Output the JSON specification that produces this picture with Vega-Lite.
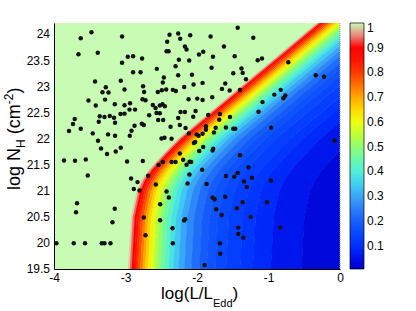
{
"$schema":"https://vega.github.io/schema/vega-lite/v6.json",
"width":286,"height":246,"autosize":"none",
"padding":{"left":54,"top":23,"right":76,"bottom":42},
"config":{"font":"Liberation Sans","view":{"fill":"#c8fcb4","stroke":null},
 "axis":{"labelFont":"Liberation Sans","labelFontSize":12,"labelColor":"black","domainColor":"black","ticks":false,"grid":false,"title":null,"labelFlush":false,"labelOverlap":false}},
"datasets":{"bands":[
{"k":1,"c":0.98,"y":[19.4,20.5,21,21.2,21.4,21.6,21.8,22,24.3],"x":[-2.970,-2.925,-2.845,-2.780,-2.680,-2.550,-2.415,-2.270,-0.260],"x2":[-2.939,-2.894,-2.814,-2.749,-2.649,-2.519,-2.384,-2.239,-0.229]},
{"k":2,"c":0.94,"y":[19.4,20.5,21,21.2,21.4,21.6,21.8,22,24.3],"x":[-2.945,-2.900,-2.820,-2.755,-2.655,-2.525,-2.390,-2.245,-0.235],"x2":[-2.912,-2.867,-2.787,-2.722,-2.622,-2.492,-2.357,-2.212,-0.202]},
{"k":3,"c":0.90,"y":[19.4,20.5,21,21.2,21.4,21.6,21.8,22,24.3],"x":[-2.918,-2.873,-2.793,-2.728,-2.628,-2.498,-2.363,-2.218,-0.208],"x2":[-2.885,-2.840,-2.760,-2.695,-2.595,-2.465,-2.330,-2.185,-0.175]},
{"k":4,"c":0.86,"y":[19.4,20.5,21,21.2,21.4,21.6,21.8,22,24.3],"x":[-2.891,-2.846,-2.766,-2.701,-2.601,-2.471,-2.336,-2.191,-0.181],"x2":[-2.856,-2.811,-2.731,-2.666,-2.566,-2.436,-2.301,-2.156,-0.146]},
{"k":5,"c":0.82,"y":[19.4,20.5,21,21.2,21.4,21.6,21.8,22,24.3],"x":[-2.862,-2.817,-2.737,-2.672,-2.572,-2.442,-2.307,-2.162,-0.152],"x2":[-2.826,-2.781,-2.701,-2.636,-2.536,-2.406,-2.271,-2.126,-0.116]},
{"k":6,"c":0.78,"y":[19.4,20.5,21,21.2,21.4,21.6,21.8,22,24.3],"x":[-2.832,-2.787,-2.707,-2.642,-2.542,-2.412,-2.277,-2.132,-0.122],"x2":[-2.794,-2.749,-2.669,-2.604,-2.504,-2.374,-2.239,-2.094,-0.084]},
{"k":7,"c":0.74,"y":[19.4,20.5,21,21.2,21.4,21.6,21.8,22,24.3],"x":[-2.800,-2.755,-2.675,-2.610,-2.510,-2.380,-2.245,-2.100,-0.090],"x2":[-2.760,-2.715,-2.635,-2.570,-2.470,-2.340,-2.205,-2.060,-0.050]},
{"k":8,"c":0.70,"y":[19.4,20.5,21,21.2,21.4,21.6,21.8,22,24.3],"x":[-2.766,-2.721,-2.641,-2.576,-2.476,-2.346,-2.211,-2.066,-0.056],"x2":[-2.725,-2.680,-2.600,-2.535,-2.435,-2.305,-2.170,-2.025,-0.015]},
{"k":9,"c":0.66,"y":[19.4,20.5,21,21.2,21.4,21.6,21.8,22,24.3],"x":[-2.731,-2.686,-2.606,-2.541,-2.441,-2.311,-2.176,-2.031,-0.021],"x2":[-2.687,-2.642,-2.562,-2.497,-2.397,-2.267,-2.132,-1.987,0.023]},
{"k":10,"c":0.62,"y":[19.4,20.5,21,21.2,21.4,21.6,21.8,22,24.3],"x":[-2.693,-2.648,-2.568,-2.503,-2.403,-2.273,-2.138,-1.993,0.017],"x2":[-2.647,-2.602,-2.522,-2.457,-2.357,-2.227,-2.092,-1.947,0.063]},
{"k":11,"c":0.58,"y":[19.4,20.5,21,21.2,21.4,21.6,21.8,22,24.3],"x":[-2.653,-2.608,-2.528,-2.463,-2.363,-2.233,-2.098,-1.953,0.057],"x2":[-2.604,-2.559,-2.479,-2.414,-2.314,-2.184,-2.049,-1.904,0.106]},
{"k":12,"c":0.54,"y":[19.4,20.5,21,21.2,21.4,21.6,21.8,22,24.3],"x":[-2.610,-2.565,-2.485,-2.420,-2.320,-2.190,-2.055,-1.910,0.100],"x2":[-2.559,-2.514,-2.434,-2.369,-2.269,-2.139,-2.004,-1.859,0.151]},
{"k":13,"c":0.50,"y":[19.4,20.5,21,21.2,21.4,21.6,21.8,22,24.3],"x":[-2.565,-2.520,-2.440,-2.375,-2.275,-2.145,-2.010,-1.865,0.145],"x2":[-2.509,-2.464,-2.384,-2.319,-2.219,-2.089,-1.954,-1.809,0.201]},
{"k":14,"c":0.46,"y":[19.4,20.5,21,21.2,21.4,21.6,21.8,22,24.3],"x":[-2.515,-2.470,-2.390,-2.325,-2.225,-2.095,-1.960,-1.815,0.195],"x2":[-2.455,-2.410,-2.330,-2.265,-2.165,-2.035,-1.900,-1.755,0.255]},
{"k":15,"c":0.42,"y":[19.4,20.5,21,21.2,21.4,21.6,21.8,22,24.3],"x":[-2.461,-2.416,-2.336,-2.271,-2.171,-2.041,-1.906,-1.761,0.249],"x2":[-2.396,-2.351,-2.271,-2.206,-2.106,-1.976,-1.841,-1.696,0.314]},
{"k":16,"c":0.38,"y":[19.4,20.5,21,21.2,21.4,21.6,21.8,22,24.3],"x":[-2.402,-2.357,-2.277,-2.212,-2.112,-1.982,-1.847,-1.702,0.308],"x2":[-2.331,-2.286,-2.206,-2.141,-2.041,-1.911,-1.776,-1.631,0.379]},
{"k":17,"c":0.34,"y":[19.4,20.5,21,21.2,21.4,21.6,21.8,22,24.3],"x":[-2.337,-2.292,-2.212,-2.147,-2.047,-1.917,-1.782,-1.637,0.373],"x2":[-2.257,-2.212,-2.132,-2.067,-1.967,-1.837,-1.702,-1.557,0.453]},
{"k":18,"c":0.30,"y":[19.4,20.5,21,21.2,21.4,21.6,21.8,22,24.3],"x":[-2.263,-2.218,-2.138,-2.073,-1.973,-1.843,-1.708,-1.563,0.447],"x2":[-2.175,-2.130,-2.050,-1.985,-1.885,-1.755,-1.620,-1.475,0.535]},
{"k":19,"c":0.26,"y":[19.4,20.5,21,21.2,21.4,21.6,21.8,22,24.3],"x":[-2.181,-2.136,-2.056,-1.991,-1.891,-1.761,-1.626,-1.481,0.529],"x2":[-2.079,-2.034,-1.954,-1.889,-1.789,-1.659,-1.524,-1.379,0.631]},
{"k":20,"c":0.22,"y":[19.4,20.5,21,21.2,21.4,21.6,21.8,22,24.3],"x":[-2.085,-2.040,-1.960,-1.895,-1.795,-1.665,-1.530,-1.385,0.625],"x2":[-1.966,-1.921,-1.841,-1.776,-1.676,-1.546,-1.411,-1.266,0.744]},
{"k":21,"c":0.19,"y":[19.4,20.5,21,21.2,21.4,21.6,21.8,22,24.3],"x":[-1.972,-1.927,-1.847,-1.782,-1.682,-1.552,-1.417,-1.272,0.738],"x2":[-1.865,-1.820,-1.740,-1.675,-1.575,-1.445,-1.310,-1.165,0.845]},
{"k":22,"c":0.17,"y":[19.4,20.5,21,21.2,21.4,21.6,21.8,22,24.3],"x":[-1.871,-1.826,-1.746,-1.681,-1.581,-1.451,-1.316,-1.171,0.839],"x2":[-1.745,-1.700,-1.620,-1.555,-1.455,-1.325,-1.190,-1.045,0.965]},
{"k":23,"c":0.15,"y":[19.4,20.5,21,21.2,21.4,21.6,21.8,22,24.3],"x":[-1.751,-1.706,-1.626,-1.561,-1.461,-1.331,-1.196,-1.051,0.959],"x2":[-1.595,-1.550,-1.470,-1.405,-1.305,-1.175,-1.040,-0.895,1.115]},
{"k":24,"c":0.13,"y":[19.4,20.5,21,21.2,21.4,21.6,21.8,22,24.3],"x":[-1.601,-1.556,-1.476,-1.411,-1.311,-1.181,-1.046,-0.901,1.109],"x2":[-1.398,-1.353,-1.273,-1.208,-1.108,-0.978,-0.843,-0.698,1.312]},
{"k":25,"c":0.11,"y":[19.4,20.5,21,21.2,21.4,21.6,21.8,22,24.3],"x":[-1.404,-1.359,-1.279,-1.214,-1.114,-0.984,-0.849,-0.704,1.306],"x2":[-1.220,-1.175,-1.095,-1.030,-0.930,-0.800,-0.665,-0.520,1.490]},
{"k":26,"c":0.09,"y":[19.4,20.5,21,21.2,21.4,21.6,21.8,22,24.3],"x":[-1.226,-1.181,-1.101,-1.036,-0.936,-0.806,-0.671,-0.526,1.484],"x2":[-0.968,-0.923,-0.843,-0.778,-0.678,-0.548,-0.413,-0.268,1.742]},
{"k":27,"c":0.06,"y":[19.4,20.5,21,21.2,21.4,21.6,21.8,22,24.3],"x":[-0.974,-0.929,-0.849,-0.784,-0.684,-0.554,-0.419,-0.274,1.736],"x2":[-0.539,-0.494,-0.414,-0.349,-0.249,-0.119,0.016,0.161,2.171]},
{"k":28,"c":0.03,"y":[19.4,20.5,21,21.2,21.4,21.6,21.8,22,24.3],"x":[-0.545,-0.500,-0.420,-0.355,-0.255,-0.125,0.010,0.155,2.165],"x2":[3,3,3,3,3,3,3,3,3]}
],
"ylab":[{"v":19.5,"t":"19.5"},{"v":20,"t":"20"},{"v":20.5,"t":"20.5"},{"v":21,"t":"21"},{"v":21.5,"t":"21.5"},{"v":22,"t":"22"},{"v":22.5,"t":"22.5"},{"v":23,"t":"23"},{"v":23.5,"t":"23.5"},{"v":24,"t":"24"}],
"pts":[
{"x":-3.476,"y":24.044},{"x":-3.626,"y":23.929},{"x":-3.048,"y":23.962},{"x":-2.384,"y":23.994},{"x":-2.263,"y":24.019},{"x":-2.095,"y":23.987},{"x":-2.235,"y":23.917},{"x":-2.417,"y":23.86},{"x":-2.169,"y":23.769},{"x":-2.146,"y":23.712},
{"x":-3.658,"y":23.621},{"x":-3.388,"y":23.648},{"x":-2.968,"y":23.571},{"x":-2.894,"y":23.583},{"x":-2.768,"y":23.538},{"x":-3.048,"y":23.456},{"x":-2.426,"y":23.679},{"x":-2.398,"y":23.679},{"x":-2.254,"y":23.513},{"x":-1.973,"y":23.615},
{"x":-1.913,"y":23.667},{"x":-2.109,"y":23.5},{"x":-2.894,"y":23.275},{"x":-2.79,"y":23.275},{"x":-2.562,"y":23.34},{"x":-2.3,"y":23.39},{"x":-2.263,"y":23.217},{"x":-2.071,"y":23.225},{"x":-1.922,"y":23.071},{"x":-3.426,"y":23.096},
{"x":-3.066,"y":23.11},{"x":-3.276,"y":22.987},{"x":-3.014,"y":22.942},{"x":-2.754,"y":23.006},{"x":-3.322,"y":22.89},{"x":-3.238,"y":22.885},{"x":-2.74,"y":22.898},{"x":-2.464,"y":23.173},{"x":-2.478,"y":23.077},{"x":-3.518,"y":22.731},
{"x":-3.286,"y":22.75},{"x":-3.416,"y":22.635},{"x":-3.15,"y":22.66},{"x":-3.014,"y":22.64},{"x":-2.936,"y":22.679},{"x":-2.762,"y":22.756},{"x":-2.72,"y":22.737},{"x":-2.618,"y":22.648},{"x":-2.548,"y":22.898},{"x":-2.492,"y":22.929},
{"x":-2.431,"y":22.942},{"x":-2.338,"y":22.937},{"x":-2.296,"y":22.917},{"x":-2.179,"y":22.994},{"x":-2.048,"y":23.038},{"x":-2.118,"y":22.756},{"x":-1.997,"y":22.769},{"x":-1.922,"y":22.744},{"x":-2.58,"y":22.59},{"x":-2.52,"y":22.635},
{"x":-2.482,"y":22.66},{"x":-2.45,"y":22.621},{"x":-2.566,"y":22.494},{"x":-2.52,"y":22.487},{"x":-2.543,"y":22.36},{"x":-2.473,"y":22.36},{"x":-2.669,"y":22.448},{"x":-3.71,"y":22.379},{"x":-3.734,"y":22.283},{"x":-3.626,"y":22.192},
{"x":-3.79,"y":22.148},{"x":-3.36,"y":22.429},{"x":-3.374,"y":22.327},{"x":-3.294,"y":22.417},{"x":-3.22,"y":22.437},{"x":-3.16,"y":22.404},{"x":-3.146,"y":22.308},{"x":-3.07,"y":22.475},{"x":-3.014,"y":22.481},{"x":-2.944,"y":22.558},
{"x":-2.866,"y":22.558},{"x":-3.458,"y":22.102},{"x":-3.384,"y":21.962},{"x":-3.244,"y":22.083},{"x":-3.146,"y":22.058},{"x":-2.94,"y":22.058},{"x":-2.916,"y":22.154},{"x":-2.874,"y":22.25},{"x":-2.772,"y":22.288},{"x":-2.744,"y":22.263},
{"x":-3.342,"y":21.813},{"x":-3.258,"y":21.706},{"x":-3.136,"y":21.756},{"x":-3.066,"y":21.827},{"x":-2.37,"y":22.231},{"x":-2.24,"y":22.263},{"x":-2.16,"y":22.206},{"x":-2.113,"y":22.102},{"x":-2.23,"y":22.513},{"x":-2.169,"y":22.513},
{"x":-2.263,"y":22.398},{"x":-2.02,"y":22.533},{"x":-2.053,"y":22.423},{"x":-1.843,"y":22.456},{"x":-2.356,"y":22.0},{"x":-2.496,"y":22.006},{"x":-2.454,"y":22.019},{"x":-2.006,"y":22.083},{"x":-1.978,"y":22.058},{"x":-1.922,"y":22.096},
{"x":-2.025,"y":21.937},{"x":-2.043,"y":21.917},{"x":-1.913,"y":21.84},{"x":-1.969,"y":21.763},{"x":-2.24,"y":21.717},{"x":-2.193,"y":21.596},{"x":-2.146,"y":21.5},{"x":-2.104,"y":21.558},{"x":-2.081,"y":21.552},{"x":-2.356,"y":21.552},
{"x":-2.3,"y":21.552},{"x":-2.478,"y":21.552},{"x":-2.538,"y":21.494},{"x":-1.431,"y":24.129},{"x":-1.81,"y":23.962},{"x":-1.213,"y":23.937},{"x":-1.623,"y":23.769},{"x":-1.473,"y":23.583},{"x":-1.777,"y":23.571},{"x":-1.151,"y":23.506},
{"x":-1.091,"y":23.538},{"x":-0.723,"y":23.467},{"x":-1.796,"y":23.36},{"x":-1.378,"y":23.346},{"x":-1.493,"y":23.256},{"x":-1.361,"y":23.263},{"x":-1.315,"y":23.14},{"x":-1.605,"y":23.058},{"x":-1.651,"y":22.956},{"x":-1.543,"y":22.923},
{"x":-1.399,"y":22.933},{"x":-1.787,"y":22.794},{"x":-0.339,"y":23.217},{"x":-0.223,"y":23.187},{"x":-0.829,"y":22.937},{"x":-0.919,"y":22.846},{"x":-0.765,"y":22.827},{"x":-0.793,"y":22.775},{"x":-1.084,"y":22.702},{"x":-1.14,"y":22.519},
{"x":-1.679,"y":22.475},{"x":-1.689,"y":22.365},{"x":-1.539,"y":22.417},{"x":-1.875,"y":22.237},{"x":-1.875,"y":22.173},{"x":-1.739,"y":22.212},{"x":-1.763,"y":22.121},{"x":-1.595,"y":22.217},{"x":-1.493,"y":22.192},{"x":-1.465,"y":22.192},
{"x":-0.961,"y":22.212},{"x":-0.078,"y":21.967},{"x":-1.773,"y":21.808},{"x":-1.782,"y":21.775},{"x":-1.399,"y":21.683},{"x":-3.86,"y":21.583},{"x":-3.706,"y":21.577},{"x":-3.556,"y":21.602},{"x":-2.978,"y":21.563},{"x":-2.758,"y":21.571},
{"x":-3.528,"y":21.294},{"x":-2.922,"y":21.237},{"x":-2.832,"y":21.167},{"x":-2.884,"y":21.033},{"x":-2.804,"y":21.006},{"x":-2.683,"y":21.288},{"x":-1.927,"y":21.404},{"x":-2.106,"y":21.313},{"x":-2.132,"y":21.14},{"x":-1.866,"y":21.129},
{"x":-2.426,"y":20.987},{"x":-2.394,"y":20.871},{"x":-2.515,"y":20.744},{"x":-2.576,"y":21.121},{"x":-3.678,"y":20.763},{"x":-3.692,"y":20.59},{"x":-3.15,"y":20.654},{"x":-3.182,"y":20.398},{"x":-2.744,"y":20.487},{"x":-2.515,"y":20.437},
{"x":-2.165,"y":20.456},{"x":-2.179,"y":20.429},{"x":-2.342,"y":20.283},{"x":-2.72,"y":20.148},{"x":-2.338,"y":19.994},{"x":-3.966,"y":19.994},{"x":-3.724,"y":19.994},{"x":-3.566,"y":19.994},{"x":-3.332,"y":19.994},{"x":-3.294,"y":19.994},
{"x":-3.21,"y":19.994},{"x":-1.894,"y":19.577},{"x":-1.28,"y":21.452},{"x":-1.595,"y":21.283},{"x":-1.479,"y":21.269},{"x":-1.431,"y":21.34},{"x":-1.231,"y":21.25},{"x":-0.965,"y":21.198},{"x":-1.343,"y":21.179},{"x":-1.303,"y":21.071},
{"x":-1.782,"y":20.871},{"x":-1.754,"y":20.84},{"x":-1.605,"y":20.885},{"x":-1.361,"y":20.779},{"x":-1.022,"y":20.779},{"x":-1.731,"y":20.648},{"x":-1.442,"y":20.667},{"x":-1.655,"y":20.538},{"x":-1.249,"y":20.5},{"x":-0.835,"y":20.294},
{"x":-1.423,"y":20.294},{"x":-1.423,"y":20.173},{"x":-1.353,"y":20.102},{"x":-1.679,"y":19.994},{"x":-1.675,"y":19.794}
]},
"layer":[
{"data":{"name":"bands"},"transform":[{"flatten":["y","x","x2"]}],
 "mark":{"type":"area","orient":"horizontal","clip":true},
 "encoding":{
  "y":{"field":"y","type":"quantitative","scale":{"domain":[19.5,24.22],"nice":false,"zero":false},"axis":{"labels":false,"values":[19.5,20,20.5,21,21.5,22,22.5,23,23.5,24]}},
  "x":{"field":"x","type":"quantitative","stack":null,"scale":{"domain":[-4,0],"nice":false,"zero":false},"axis":{"values":[-4,-3,-2,-1,0],"labelExpr":"''+datum.value","labelPadding":3,"labelOverlap":false}},
  "x2":{"field":"x2"},
  "detail":{"field":"k","type":"nominal"},
  "color":{"field":"c","type":"quantitative",
   "scale":{"domain":[0.006,0.05,0.1,0.15,0.2,0.25,0.3,0.35,0.4,0.45,0.5,0.55,0.6,0.65,0.7,0.75,0.8,0.85,0.9,0.93,0.96,1],
    "range":["#0000c8","#0010e8","#0030ff","#0848ff","#1860fa","#2a80f8","#3aa6f8","#40d0f0","#50f0d8","#6cf8a8","#90fc70","#c0ff38","#eeff10","#ffd800","#ffa800","#ff7000","#ff3800","#ff1400","#ff0000","#f84848","#e0a898","#c8fcb4"],"interpolate":"rgb"},
   "legend":{"title":null,"orient":"right","offset":10,"padding":0,"gradientLength":246,"gradientThickness":14,"values":[0.1,0.2,0.3,0.4,0.5,0.6,0.7,0.8,0.9,1],"labelExpr":"''+datum.value","labelFontSize":12,"labelColor":"black","labelFont":"Liberation Sans","gradientStrokeColor":"black","gradientStrokeWidth":0.7,"labelOffset":3,"labelBaseline":"middle","labelOverlap":false}}
 }},
{"data":{"values":[{}]},"mark":{"type":"rule","color":"#a0a0a0","strokeDash":[1,1]},"encoding":{"x":{"datum":0}}},
{"data":{"name":"pts"},"mark":{"type":"point","filled":true,"color":"#111111","opacity":1,"size":20,"clip":true},"encoding":{"x":{"field":"x","type":"quantitative"},"y":{"field":"y","type":"quantitative"}}},
{"data":{"name":"ylab"},"mark":{"type":"text","fontSize":12,"align":"right","baseline":"middle","dx":-4,"color":"black","clip":false},"encoding":{"x":{"datum":-4},"y":{"field":"v","type":"quantitative"},"text":{"field":"t"}}},
{"data":{"values":[{}]},"mark":{"type":"text","text":"log(L/L","fontSize":17,"align":"right","baseline":"alphabetic","clip":false},"encoding":{"x":{"datum":-1.776},"y":{"datum":18.925}}},
{"data":{"values":[{}]},"mark":{"type":"text","text":"Edd","fontSize":11,"align":"left","baseline":"alphabetic","clip":false},"encoding":{"x":{"datum":-1.776},"y":{"datum":18.771}}},
{"data":{"values":[{}]},"mark":{"type":"text","text":")","fontSize":17,"align":"left","baseline":"alphabetic","clip":false},"encoding":{"x":{"datum":-1.502},"y":{"datum":18.925}}},
{"data":{"values":[{}]},"mark":{"type":"text","text":"log N","fontSize":18,"angle":270,"align":"left","baseline":"alphabetic","clip":false},"encoding":{"x":{"datum":-4.476},"y":{"datum":21.016}}},
{"data":{"values":[{}]},"mark":{"type":"text","text":"H","fontSize":12,"angle":270,"align":"left","baseline":"alphabetic","clip":false},"encoding":{"x":{"datum":-4.406},"y":{"datum":21.822}}},
{"data":{"values":[{}]},"mark":{"type":"text","text":"(cm","fontSize":18,"angle":270,"align":"left","baseline":"alphabetic","clip":false},"encoding":{"x":{"datum":-4.476},"y":{"datum":22.085}}},
{"data":{"values":[{}]},"mark":{"type":"text","text":"-2","fontSize":12,"angle":270,"align":"left","baseline":"alphabetic","clip":false},"encoding":{"x":{"datum":-4.58},"y":{"datum":22.66}}},
{"data":{"values":[{}]},"mark":{"type":"text","text":")","fontSize":18,"angle":270,"align":"left","baseline":"alphabetic","clip":false},"encoding":{"x":{"datum":-4.476},"y":{"datum":22.865}}}
]
}
